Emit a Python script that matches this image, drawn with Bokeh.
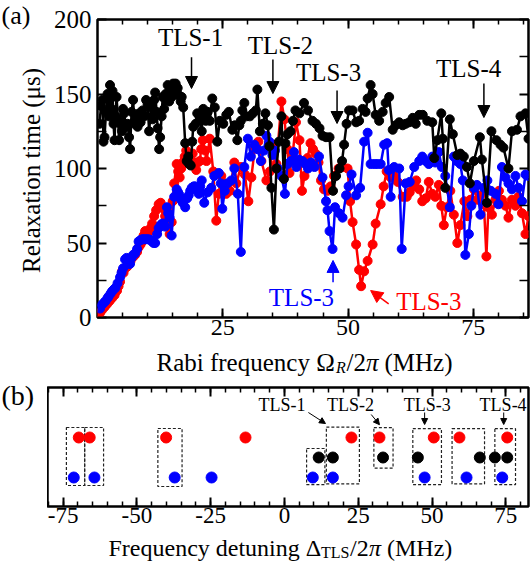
from bokeh.plotting import figure
from bokeh.layouts import column, row
from bokeh.models import Range1d, FixedTicker, LinearAxis, Label, Arrow, NormalHead
from bokeh.embed import file_html
from bokeh.resources import INLINE
import math

FONT = "Liberation Serif"

# ---------------- panel (a) data ----------------
black_x = [0.4,0.7,1.0,1.2,1.4,1.7,2.0,2.3,2.5,2.8,3.0,3.2,3.4,3.6,3.8,4.1,4.3,4.6,4.9,5.1,5.3,5.7,6.0,6.3,6.5,6.8,7.1,7.4,7.7,8.0,
           8.3,8.6,9.0,9.3,9.7,10.0,10.3,10.7,11.0,11.3,11.5,11.8,12.0,12.3,12.5,12.8,13.0,13.3,13.6,14.0,14.3,14.5,14.8,15.1,15.4,15.6,16.0,16.3,16.6,16.8,
           17.1,17.5,17.8,18.1,18.3,18.6,18.9,19.1,19.6,19.9,20.4,20.8,21.1,21.6,22.0,22.4,22.9,23.4,23.9,24.4,25.1,25.7,26.2,26.9,27.4,27.9,28.3,28.6,28.9,29.3,
           29.7,30.4,31.0,31.6,31.9,32.4,33.0,33.5,34.0,34.3,34.7,35.2,35.7,36.2,36.7,37.2,37.5,37.9,38.5,39.0,39.5,40.3,41.2,42.0,42.9,43.6,44.3,44.9,45.6,46.3,
           47.0,47.6,48.3,48.8,49.2,49.7,50.2,50.9,51.6,52.2,52.9,53.5,53.9,54.5,54.9,55.5,56.2,56.9,57.5,58.2,58.9,59.5,60.2,60.9,61.5,62.2,62.9,63.5,64.2,64.9,
           65.8,66.8,67.2,67.8,68.6,68.9,69.4,70.3,70.9,71.8,72.4,73.1,73.7,74.3,75.1,76.3,76.7,77.7,78.6,79.6,80.4,81.0,82.0,82.7,83.7,84.4,85.4,86.0]
black_y = [130,142,146,118,121,138,150,135,156,140,152,130,119,135,148,133,119,130,125,140,137,128,130,121,113,138,146,130,134,128,
           137,131,139,135,146,143,125,141,133,146,151,138,127,113,121,135,148,140,150,156,145,152,148,157,150,157,154,149,145,148,
           141,117,105,108,103,102,118,128,130,137,134,125,140,132,138,132,147,141,118,132,130,136,138,126,129,119,129,132,139,144,
           135,135,137,139,153,125,130,137,129,115,87,59,100,118,135,93,117,123,125,132,139,137,144,139,132,130,127,122,121,121,
           85,95,100,105,116,130,139,139,131,132,140,138,147,156,150,136,132,138,144,148,126,129,131,129,130,131,134,130,136,136,
           132,131,107,119,137,120,87,133,123,109,110,108,101,90,105,121,106,77,125,119,116,114,100,125,126,135,137,120]

red_x = [0.5,0.9,1.4,1.9,2.4,2.9,3.4,3.9,4.2,4.5,4.9,5.2,5.5,5.9,6.2,6.6,6.9,7.2,7.5,7.9,8.2,8.6,8.9,9.2,9.5,9.9,10.2,10.6,10.9,11.3,
         11.7,12.2,12.6,13.2,13.5,13.85,14.4,14.8,15.0,15.3,15.8,16.1,16.4,16.7,17.0,17.4,17.7,18.0,18.4,18.7,19.0,19.3,19.7,20.0,20.4,20.7,21.0,21.5,21.75,22.4,
         23.1,23.7,24.2,24.7,25.3,25.7,26.4,27.3,27.7,28.6,29.4,30.1,30.7,31.4,32.1,32.7,33.7,34.4,35.0,35.7,36.7,37.3,37.9,38.3,38.9,39.6,40.3,40.8,41.3,41.9,
         42.5,43.0,43.5,44.1,44.6,45.2,45.9,46.5,47.2,48.1,48.9,49.9,50.4,50.9,51.6,52.2,52.6,53.2,53.9,54.9,55.5,56.5,57.1,57.7,58.5,59.2,59.9,60.9,61.7,62.3,
         63.0,63.6,64.2,64.8,65.5,66.1,66.8,67.4,68.1,68.6,69.1,69.7,70.4,71.1,71.8,72.4,73.2,73.8,74.4,75.1,75.8,76.5,77.1,77.6,78.0,78.7,79.4,80.1,80.7,81.4,
         82.0,82.7,83.4,84.0,84.7,85.4,86.0]
red_y = [3,5,7,9,11,13,15,18,21,24,31,30,33,34,36,38,40,41,42,44,47,49,51,55,58,56,57,60,63,68,
         72,76,77,73,68,64,56,64,78,90,103,98,94,100,104,108,112,107,103,105,110,104,99,104,105,113,119,112,105,120,
         98,65,83,95,90,83,85,104,90,101,96,78,94,114,118,105,92,98,116,103,145,133,113,97,108,131,119,85,95,107,
         117,113,110,104,92,86,85,88,95,100,101,100,78,64,49,32,21,31,38,49,63,76,88,98,94,95,91,81,81,84,
         88,92,86,78,80,91,83,81,89,75,62,74,85,69,50,62,78,68,79,86,79,82,76,41,74,69,79,85,79,75,
         67,79,75,81,70,56,68]

blue_x = [0.5,0.9,1.3,1.6,2.0,2.2,2.6,2.9,3.3,3.6,4.0,4.5,4.8,5.1,5.5,5.8,6.0,6.3,6.5,6.8,7.1,7.5,7.9,8.2,8.6,8.9,9.2,9.5,9.9,10.2,
          10.6,10.9,11.2,11.5,11.9,12.2,12.6,12.9,13.2,13.5,13.85,14.1,14.4,14.8,15.3,15.8,16.1,16.4,16.7,17.0,17.5,17.9,18.2,18.5,18.8,19.2,19.5,19.8,20.2,20.5,
          20.8,21.3,22.0,22.7,23.3,24.2,24.6,24.9,25.4,25.9,26.7,27.3,28.0,28.6,29.3,30.0,30.6,31.3,31.9,32.6,33.2,33.7,34.3,34.9,35.4,36.0,36.7,37.4,37.9,38.6,
          39.2,39.7,40.2,40.9,41.5,42.0,42.6,43.3,44.2,44.9,45.6,45.9,46.3,46.9,47.4,48.2,48.9,49.6,50.1,50.7,51.6,52.4,53.2,53.9,54.5,55.2,55.8,56.5,57.2,57.8,
          58.1,58.5,59.2,60.2,60.7,61.5,62.3,63.2,64.2,64.8,65.5,66.1,66.8,67.4,68.1,68.7,69.4,70.3,71.1,71.7,72.4,72.9,73.4,74.1,74.6,75.1,75.7,76.4,77.1,77.8,
          78.5,79.4,80.0,80.7,81.4,82.0,82.7,83.4,84.0,84.7,85.4,86.0]
blue_y = [6,8.6,10,11,13,14,16,17.6,19,20,23,27,30,33,39,40,38,36,36,40,42,43,46,51,52,52.5,52.5,52.5,52.5,52.5,
          52,51,50,50,56,60,62,63,63,61,74,70,67,55,81,86,84,82,79,77,74,80,82,85,87,88,88,86,83,88,
          92,77,84,87,95,97,90,73,85,90,92,100,83,44,101,120,108,116,113,105,112,122,118,109,112,100,95,83,103,105,
          111,101,106,105,103,100,104,101,108,94,78,72,58,46,74,70,67,82,88,96,82,87,118,124,103,103,103,103,116,117,
          99,81,101,100,46,90,91,101,105,108,105,103,108,104,111,101,95,74,108,105,103,92,42,56,75,87,89,69,87,92,
          85,83,76,101,94,90,86,95,87,78,96,95]

# ---------------- panel (b) data ----------------
red_b = [-69.7, -66.0, -40.1, -13.2, 22.7, 32.2, 50.6, 59.3, 75.5]
black_b = [11.6, 16.4, 33.4, 45.2, 66.2, 71.3, 75.5]
blue_b = [-71.4, -64.4, -37.2, -24.7, 9.6, 16.4, 47.5, 61.7, 73.8]
row_red, row_black, row_blue = 3, 2, 1
groups = [(-73.9, -67.7, 0.6, 3.5), (-67.7, -61.3, 0.6, 3.5), (-42.9, -34.7, 0.55, 3.45),
          (7.5, 13.7, 0.64, 2.45), (14.2, 25.4, 0.68, 3.52), (30.3, 36.8, 1.47, 3.49),
          (43.5, 53.2, 0.64, 3.44), (56.8, 67.8, 0.68, 3.44), (71.3, 78.3, 0.64, 3.44)]

RED = "#ff0000"
BLUE = "#0000ff"
BLACK = "#000000"


def style_axis(ax, size="25px"):
    ax.major_label_text_font = FONT
    ax.major_label_text_font_size = size
    ax.major_label_text_color = "black"
    ax.axis_line_color = None
    ax.major_tick_line_color = "black"
    ax.minor_tick_line_color = "black"
    ax.major_tick_line_width = 2
    ax.minor_tick_line_width = 1.5
    ax.major_tick_out = 0
    ax.minor_tick_out = 0


def hide_labels(ax):
    ax.major_label_text_font_size = "1px"
    ax.major_label_text_color = None
    ax.major_label_standoff = 0
    ax.axis_label = None


def blank(w, h):
    f = figure(width=w, height=h, output_backend="svg", toolbar_location=None, title=None,
               x_range=Range1d(0, w), y_range=Range1d(0, h),
               min_border_left=0, min_border_right=0, min_border_top=0, min_border_bottom=0,
               x_axis_location=None, y_axis_location=None)
    f.outline_line_color = None
    f.grid.visible = False
    return f


def lab(p, x, y, text, size, color="black", align="center", style="normal", angle=0):
    p.add_layout(Label(x=x, y=y, text=text, text_font=FONT, text_font_size=size,
                       text_color=color, text_align=align, text_baseline="middle",
                       text_font_style=style, angle=angle))


def slab(p, top, h, sx, base, text, px, **kw):
    # place a label in a blank strip: page x, page baseline y, font size px
    mid = base - 0.3375 * px
    lab(p, sx, top + h - mid, text, "%dpx" % px, **kw)


def arr(p, x0, y0, x1, y1, color="black", size=12, width=1.5):
    p.add_layout(Arrow(end=NormalHead(size=size, fill_color=color, line_color=color, line_width=1),
                       x_start=x0, y_start=y0, x_end=x1, y_end=y1,
                       line_color=color, line_width=width))


# ================= panel (a) =================
HA = 346
pa = figure(width=482, height=HA, output_backend="svg", toolbar_location=None, title=None,
            x_range=Range1d(0, 86), y_range=Range1d(0, 200),
            min_border_left=49, min_border_right=2, min_border_top=19, min_border_bottom=HA - 317)
pa.grid.visible = False
pa.outline_line_color = "black"
pa.outline_line_width = 2.5

xt_a = FixedTicker(ticks=[25, 50, 75], minor_ticks=list(range(5, 86, 5)))
yt_a = FixedTicker(ticks=[0, 50, 100, 150, 200], minor_ticks=[25, 75, 125, 175])

xa = pa.xaxis[0]
xa.ticker = xt_a
style_axis(xa, "24px")
xa.major_tick_in = 9
xa.minor_tick_in = 5
xa.major_label_standoff = 2

ya = pa.yaxis[0]
ya.ticker = yt_a
style_axis(ya)
ya.major_tick_in = 9
ya.minor_tick_in = 9
ya.major_label_standoff = 6

top_a = LinearAxis(ticker=xt_a)
style_axis(top_a)
hide_labels(top_a)
top_a.major_tick_in = 9
top_a.minor_tick_in = 5
pa.add_layout(top_a, "above")

right_a = LinearAxis(ticker=yt_a)
style_axis(right_a)
hide_labels(right_a)
right_a.major_tick_in = 9
right_a.minor_tick_in = 9
pa.add_layout(right_a, "right")

for xs, ys, c in [(red_x, red_y, RED), (blue_x, blue_y, BLUE), (black_x, black_y, BLACK)]:
    pa.line(xs, ys, line_color=c, line_width=2.5)
    pa.scatter(xs, ys, size=9, fill_color=c, line_color=c)

lab(pa, 18.56, 187.9, "TLS-1", "25px")
arr(pa, 18.76, 174.7, 18.76, 153.7)
lab(pa, 36.5, 182.6, "TLS-2", "25px")
arr(pa, 35.0, 173.2, 35.0, 150.3)
lab(pa, 46.1, 164.4, "TLS-3", "25px")
arr(pa, 47.8, 152.3, 47.8, 130.2)
lab(pa, 74.05, 167.4, "TLS-4", "25px")
arr(pa, 77.1, 157.0, 77.1, 134.2)
lab(pa, 40.7, 13.4, "TLS-3", "25px", color=BLUE)
arr(pa, 47.0, 23.7, 47.0, 38.3, color=BLUE)
lab(pa, 66.1, 10.7, "TLS-3", "25px", color=RED)
arr(pa, 58.1, 9.2, 54.5, 18.1, color=RED)

# left strip of (a)
sa = blank(48, HA)
slab(sa, 0, HA, 1, 23.5, "(a)", 26, align="left")
lab(sa, 31, HA - 170, "Relaxation time (μs)", "25px", angle=math.pi / 2)

# x title of (a)
XLA_TOP, XLA_H = HA, 377 - HA
xla = blank(530, XLA_H)
B = 370.0
slab(xla, XLA_TOP, XLA_H, 156, B, "Rabi frequency Ω", 25, align="left")
slab(xla, XLA_TOP, XLA_H, 335.5, 372.0, "R", 16, align="left", style="italic")
slab(xla, XLA_TOP, XLA_H, 346.0, B, "/2", 25, align="left")
slab(xla, XLA_TOP, XLA_H, 365.5, B, "π", 25, align="left", style="italic")
slab(xla, XLA_TOP, XLA_H, 384.0, B, "(MHz)", 25, align="left")

# ================= panel (b) =================
PB_TOP = 377
HB = 10 + 119 + 27
pb = figure(width=483, height=HB, output_backend="svg", toolbar_location=None, title=None,
            x_range=Range1d(-80.3, 82.7), y_range=Range1d(-0.45, 5.5),
            min_border_left=0, min_border_right=2, min_border_top=10, min_border_bottom=27)
pb.grid.visible = False
pb.outline_line_color = "black"
pb.outline_line_width = 2.5
pb.yaxis.visible = False

xt_b = FixedTicker(ticks=[-75, -50, -25, 0, 25, 50, 75], minor_ticks=list(range(-80, 85, 5)))
xb = pb.xaxis[0]
xb.ticker = xt_b
style_axis(xb, "23px")
xb.major_tick_in = 9
xb.minor_tick_in = 5
xb.major_label_standoff = 1
xb.major_label_overrides = {-75: "-75", -50: "-50", -25: "-25"}

top_b = LinearAxis(ticker=xt_b)
style_axis(top_b)
hide_labels(top_b)
top_b.major_tick_in = 9
top_b.minor_tick_in = 5
pb.add_layout(top_b, "above")

for (l, r, b, t) in groups:
    pb.quad(left=l, right=r, bottom=b, top=t, fill_color=None, line_color="#222222",
            line_width=1.2, line_dash="3 2")

pb.scatter(red_b, [row_red] * len(red_b), size=11, fill_color=RED, line_color=RED)
pb.scatter(black_b, [row_black] * len(black_b), size=11, fill_color=BLACK, line_color=BLACK)
pb.scatter(blue_b, [row_blue] * len(blue_b), size=11, fill_color=BLUE, line_color=BLUE)

lab(pb, -0.85, 4.65, "TLS-1", "18px")
arr(pb, 8.1, 4.25, 13.9, 3.7, size=6, width=1)
lab(pb, 22.4, 4.65, "TLS-2", "18px")
arr(pb, 29.4, 4.15, 32.2, 3.64, size=6, width=1)
lab(pb, 48.4, 4.65, "TLS-3", "18px")
arr(pb, 47.5, 4.25, 47.5, 3.65, size=6, width=1)
lab(pb, 74.1, 4.65, "TLS-4", "18px")
arr(pb, 74.3, 4.25, 74.3, 3.65, size=6, width=1)

sb = blank(47, HB)
slab(sb, PB_TOP, HB, 1, 404, "(b)", 28, align="left")

XLB_TOP = PB_TOP + HB
XLB_H = 562 - XLB_TOP
xlb = blank(530, XLB_H)
BB = 555.6
x0 = 108
slab(xlb, XLB_TOP, XLB_H, x0, BB, "Frequency detuning Δ", 24, align="left")
slab(xlb, XLB_TOP, XLB_H, x0 + 212.5, 557.3, "TLS", 16, align="left")
slab(xlb, XLB_TOP, XLB_H, x0 + 241.5, BB, "/2", 24, align="left")
slab(xlb, XLB_TOP, XLB_H, x0 + 260.5, BB, "π", 24, align="left", style="italic")
slab(xlb, XLB_TOP, XLB_H, x0 + 278.5, BB, "(MHz)", 24, align="left")

layout = column(row(column(sa), pa, spacing=0), xla, row(column(sb), pb, spacing=0), xlb, spacing=0)
open("out.html", "w").write(file_html(layout, INLINE))
